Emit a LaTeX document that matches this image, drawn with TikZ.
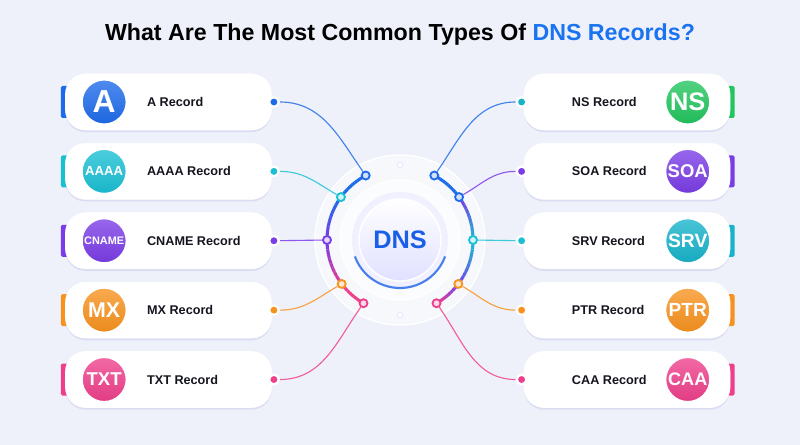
\documentclass[tikz,border=0pt]{standalone}
\usepackage{fontspec}
\setmainfont{Liberation Sans}
\usepackage{graphicx}
\usetikzlibrary{positioning, shadows}

\definecolor{bgcol}{HTML}{EEF1FA}
\definecolor{ablue}{HTML}{1E6BEA}
\definecolor{acyan}{HTML}{19BFD3}
\definecolor{apurple}{HTML}{7A3CE6}
\definecolor{aorange}{HTML}{F7921E}
\definecolor{apink}{HTML}{EE3F8B}
\definecolor{agreen}{HTML}{22C55E}
\definecolor{ateal}{HTML}{17B3CA}
\definecolor{tblue}{HTML}{1A73F0}
\definecolor{dnsblue}{HTML}{1A5FE8}
\definecolor{ink}{HTML}{15151F}

\pgfdeclarelayer{back}
\pgfsetlayers{back,main}

\begin{document}
\begin{tikzpicture}[
    x=0.025cm, y=0.025cm,
    every node/.style={font=\small},
    card/.style={
        rectangle,
        rounded corners=0.5cm,
        draw=white,
        fill=white,
        minimum width=5.15cm,
        minimum height=1.4cm,
        drop shadow={shadow xshift=0pt, shadow yshift=-1.5pt, fill=blue!40!gray, opacity=0.12}
    },
    bar/.style={
        rectangle,
        rounded corners=1.2pt,
        fill=#1,
        inner sep=0pt,
        minimum width=0.2cm,
        minimum height=0.8cm
    },
    icon/.style={
        circle,
        inner sep=0pt,
        minimum size=1.1cm,
        text=white,
        font=\bfseries,
        top color=#1!78!white,
        bottom color=#1!95!black,
        draw=white,
        line width=0.8pt
    },
    reclabel/.style={
        inner sep=0pt,
        text=ink,
        font=\fontsize{9}{11}\selectfont\bfseries
    },
    port/.style={
        circle,
        inner sep=0pt,
        minimum size=0.24cm,
        fill=#1,
        draw=white,
        line width=1.6pt
    },
    hub/.style={
        circle,
        inner sep=0pt,
        minimum size=0.2cm,
        fill=#1!20!white,
        draw=#1,
        line width=1.3pt
    },
    link/.style={
        line width=0.8pt,
        draw=#1!85
    }
]

\begin{pgfonlayer}{back}
\fill[bgcol] (0,0) rectangle (800,445);
\fill[white, opacity=0.55] (400,205) circle[radius=2.125cm];
\draw[white, line width=1pt] (400,205) circle[radius=2.125cm];
\end{pgfonlayer}
\useasboundingbox (0,0) rectangle (800,445);

% title
\node (title) at (400,410) {\fontsize{16.5}{20}\selectfont\bfseries What Are The Most Common Types Of \textcolor{tblue}{DNS Records?}};

% centre hub
\foreach \s/\e/\ca/\cb in {118/144/ablue/ablue, 144/180/ablue/apurple, 180/217/apurple/apink, 217/240/apink/apink,
                           62/36/ablue/ablue, 36/0/apurple/acyan, 0/-37/acyan/apurple, -37/-60/apurple/apink} {
    \foreach \t in {0,...,9} {
        \pgfmathsetmacro\aa{\s+(\e-\s)*\t/10}
        \pgfmathsetmacro\bb{\s+(\e-\s)*(\t+1)/10}
        \pgfmathtruncatemacro\pp{100-\t*10}
        \draw[line width=2.2pt, \ca!\pp!\cb] ([shift={(\aa:1.825cm)}]400,205) arc[start angle=\aa, end angle=\bb, radius=1.825cm];
    }
}
\fill[white, opacity=0.6] (400,205) circle[radius=1.5cm];
\draw[white, line width=1pt] (400,205) circle[radius=1.5cm];
\fill[blue!6!white] (400,205) circle[radius=1.2cm];
\draw[dnsblue!80, line width=1.5pt] ([shift={(200:1.2cm)}]400,205) arc[start angle=200, end angle=340, radius=1.2cm];
\node (dns) [circle, minimum size=2.05cm, inner sep=0pt, top color=white, bottom color=blue!12!white, draw=white, line width=1pt,
    text=dnsblue, font=\fontsize{18}{20}\selectfont\bfseries] at (400,205) {DNS};
\node (tickT) [circle, inner sep=0pt, minimum size=4pt, fill=white, draw=blue!12] at ([shift={(90:1.875cm)}]dns.center) {};
\node (tickB) [circle, inner sep=0pt, minimum size=4pt, fill=white, draw=blue!12] at ([shift={(-90:1.875cm)}]dns.center) {};

% left cards
\node (cardA) [card] at (168.5,343) {};
\node (cardAAAA) [card, below=0.32cm of cardA] {};
\node (cardCNAME) [card, below=0.32cm of cardAAAA] {};
\node (cardMX) [card, below=0.32cm of cardCNAME] {};
\node (cardTXT) [card, below=0.32cm of cardMX] {};

\node (iconA) [icon=ablue, right=0.41cm of cardA.west] {\resizebox{0.575cm}{!}{A}};
\node (iconAAAA) [icon=acyan, right=0.41cm of cardAAAA.west] {\resizebox{0.95cm}{!}{AAAA}};
\node (iconCNAME) [icon=apurple, right=0.41cm of cardCNAME.west] {\resizebox{1.0cm}{!}{CNAME}};
\node (iconMX) [icon=aorange, right=0.41cm of cardMX.west] {\resizebox{0.8cm}{!}{MX}};
\node (iconTXT) [icon=apink, right=0.41cm of cardTXT.west] {\resizebox{0.875cm}{!}{TXT}};

\node (labA) [reclabel, right=2.04cm of cardA.west] {A Record};
\node (labAAAA) [reclabel, right=2.04cm of cardAAAA.west] {AAAA Record};
\node (labCNAME) [reclabel, right=2.04cm of cardCNAME.west] {CNAME Record};
\node (labMX) [reclabel, right=2.04cm of cardMX.west] {MX Record};
\node (labTXT) [reclabel, right=2.04cm of cardTXT.west] {TXT Record};

% right cards
\node (cardNS) [card] at (627,343) {};
\node (cardSOA) [card, below=0.32cm of cardNS] {};
\node (cardSRV) [card, below=0.32cm of cardSOA] {};
\node (cardPTR) [card, below=0.32cm of cardSRV] {};
\node (cardCAA) [card, below=0.32cm of cardPTR] {};

\node (iconNS) [icon=agreen, left=0.5cm of cardNS.east] {\resizebox{0.88cm}{!}{NS}};
\node (iconSOA) [icon=apurple, left=0.5cm of cardSOA.east] {\resizebox{1.0cm}{!}{SOA}};
\node (iconSRV) [icon=ateal, left=0.5cm of cardSRV.east] {\resizebox{0.98cm}{!}{SRV}};
\node (iconPTR) [icon=aorange, left=0.5cm of cardPTR.east] {\resizebox{0.95cm}{!}{PTR}};
\node (iconCAA) [icon=apink, left=0.5cm of cardCAA.east] {\resizebox{0.98cm}{!}{CAA}};

\node (labNS) [reclabel, right=1.2cm of cardNS.west] {NS Record};
\node (labSOA) [reclabel, right=1.2cm of cardSOA.west] {SOA Record};
\node (labSRV) [reclabel, right=1.2cm of cardSRV.west] {SRV Record};
\node (labPTR) [reclabel, right=1.2cm of cardPTR.west] {PTR Record};
\node (labCAA) [reclabel, right=1.2cm of cardCAA.west] {CAA Record};

% ports on the cards
\node (portA) [port=ablue, xshift=1.5pt] at (cardA.east) {};
\node (portAAAA) [port=acyan, xshift=1.5pt] at (cardAAAA.east) {};
\node (portCNAME) [port=apurple, xshift=1.5pt] at (cardCNAME.east) {};
\node (portMX) [port=aorange, xshift=1.5pt] at (cardMX.east) {};
\node (portTXT) [port=apink, xshift=1.5pt] at (cardTXT.east) {};
\node (portNS) [port=ateal, xshift=-1.5pt] at (cardNS.west) {};
\node (portSOA) [port=apurple, xshift=-1.5pt] at (cardSOA.west) {};
\node (portSRV) [port=acyan, xshift=-1.5pt] at (cardSRV.west) {};
\node (portPTR) [port=aorange, xshift=-1.5pt] at (cardPTR.west) {};
\node (portCAA) [port=apink, xshift=-1.5pt] at (cardCAA.west) {};

% dots on the ring
\node (hubA) [hub=ablue] at ([shift={(118:1.825cm)}]dns.center) {};
\node (hubAAAA) [hub=acyan] at ([shift={(144:1.825cm)}]dns.center) {};
\node (hubCNAME) [hub=apurple] at ([shift={(180:1.825cm)}]dns.center) {};
\node (hubMX) [hub=aorange] at ([shift={(217:1.825cm)}]dns.center) {};
\node (hubTXT) [hub=apink] at ([shift={(240:1.825cm)}]dns.center) {};
\node (hubNS) [hub=ablue] at ([shift={(62:1.825cm)}]dns.center) {};
\node (hubSOA) [hub=ablue] at ([shift={(36:1.825cm)}]dns.center) {};
\node (hubSRV) [hub=acyan] at ([shift={(0:1.825cm)}]dns.center) {};
\node (hubPTR) [hub=aorange] at ([shift={(-37:1.825cm)}]dns.center) {};
\node (hubCAA) [hub=apink] at ([shift={(-60:1.825cm)}]dns.center) {};

\begin{pgfonlayer}{back}
% accent bars
\node [bar=ablue, xshift=-0.3pt] at (cardA.west) {};
\node [bar=acyan, xshift=-0.3pt] at (cardAAAA.west) {};
\node [bar=apurple, xshift=-0.3pt] at (cardCNAME.west) {};
\node [bar=aorange, xshift=-0.3pt] at (cardMX.west) {};
\node [bar=apink, xshift=-0.3pt] at (cardTXT.west) {};
\node [bar=agreen, xshift=0.3pt] at (cardNS.east) {};
\node [bar=apurple, xshift=0.3pt] at (cardSOA.east) {};
\node [bar=ateal, xshift=0.3pt] at (cardSRV.east) {};
\node [bar=aorange, xshift=0.3pt] at (cardPTR.east) {};
\node [bar=apink, xshift=0.3pt] at (cardCAA.east) {};

% connectors
\draw [link=ablue] (portA) to[out=0, in=125] (hubA);
\draw [link=acyan] (portAAAA) to[out=0, in=150] (hubAAAA);
\draw [link=apurple] (portCNAME) -- (hubCNAME);
\draw [link=aorange] (portMX) to[out=0, in=210] (hubMX);
\draw [link=apink] (portTXT) to[out=0, in=235] (hubTXT);
\draw [link=ablue] (portNS) to[out=180, in=55] (hubNS);
\draw [link=apurple] (portSOA) to[out=180, in=30] (hubSOA);
\draw [link=acyan] (portSRV) -- (hubSRV);
\draw [link=aorange] (portPTR) to[out=180, in=-30] (hubPTR);
\draw [link=apink] (portCAA) to[out=180, in=-55] (hubCAA);
\end{pgfonlayer}

\end{tikzpicture}
\end{document}
